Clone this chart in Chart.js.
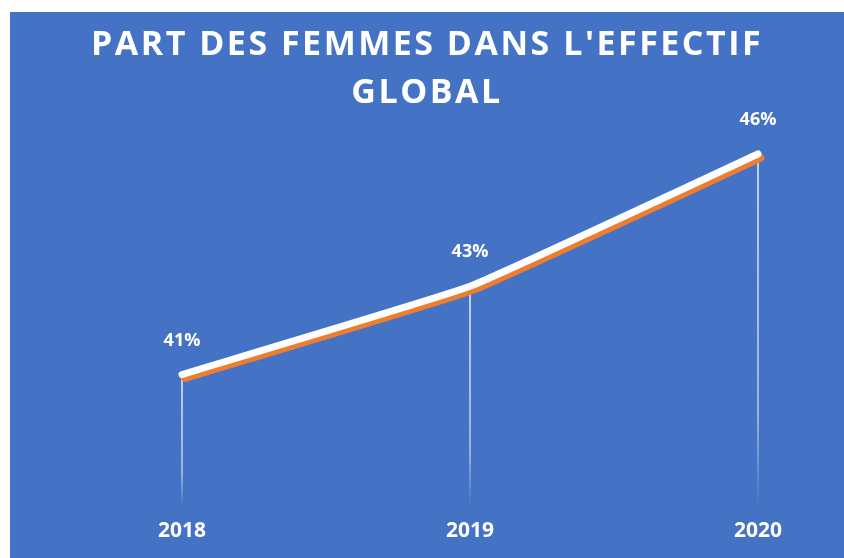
<!DOCTYPE html>
<html>
<head>
<meta charset="utf-8">
<script src="https://cdn.jsdelivr.net/npm/chart.js@4.4.1/dist/chart.umd.min.js"></script>
<style>
  html, body { margin: 0; padding: 0; background: #ffffff; }
  #wrap { width: 844px; height: 558px; position: relative; }
</style>
</head>
<body>
<div id="wrap"><canvas id="chart"></canvas></div>
<script>
/*************************************************
 * DATA
 *************************************************/
const TITLE_LINES = ["PART DES FEMMES DANS L'EFFECTIF", "GLOBAL"];
const YEARS = ["2018", "2019", "2020"];
const SHARE_PCT = [41, 43, 46];

const BLUE = "#4472C4";
const ORANGE = "#ED7D31";
const FONT = "'Open Sans', 'DejaVu Sans', sans-serif";

/*************************************************
 * PLUGINS
 *************************************************/
// blue panel behind everything + wide letter spacing for the title only
const panelBg = {
  id: "panelBg",
  beforeDraw(chart) {
    const c = chart.ctx;
    c.save();
    c.fillStyle = BLUE;
    c.fillRect(10, 12, chart.width - 10, chart.height - 12);
    c.restore();
    c.letterSpacing = "2.5px";
  },
  beforeDatasetsDraw(chart) {
    chart.ctx.letterSpacing = "0px";
  }
};

// thin fading drop lines under each point
const dropLines = {
  id: "dropLines",
  beforeDatasetsDraw(chart) {
    const c = chart.ctx;
    const meta = chart.getDatasetMeta(0);
    const bottom = chart.chartArea.bottom;
    c.save();
    c.lineWidth = 1.5;
    meta.data.forEach(pt => {
      const g = c.createLinearGradient(0, pt.y, 0, bottom);
      g.addColorStop(0, "rgba(255,255,255,0.9)");
      g.addColorStop(0.75, "rgba(255,255,255,0.6)");
      g.addColorStop(1, "rgba(255,255,255,0)");
      c.strokeStyle = g;
      c.beginPath();
      c.moveTo(pt.x, pt.y);
      c.lineTo(pt.x, bottom);
      c.stroke();
    });
    c.restore();
  }
};

// orange offset "shadow" under the white line
const lineShadow = {
  id: "lineShadow",
  beforeDatasetDraw(chart) {
    const c = chart.ctx;
    c.save();
    c.shadowColor = ORANGE;
    c.shadowOffsetX = 3;
    c.shadowOffsetY = 4;
    c.shadowBlur = 0;
  },
  afterDatasetDraw(chart) {
    chart.ctx.restore();
  }
};

// value labels above the points
const valueLabels = {
  id: "valueLabels",
  afterDatasetsDraw(chart) {
    const c = chart.ctx;
    const meta = chart.getDatasetMeta(0);
    c.save();
    c.fillStyle = "#ffffff";
    c.font = "bold 18px " + FONT;
    c.textAlign = "center";
    c.textBaseline = "middle";
    meta.data.forEach((pt, i) => {
      c.fillText(SHARE_PCT[i] + "%", pt.x, pt.y - 34);
    });
    c.restore();
  }
};

/*************************************************
 * CHART
 *************************************************/
const ctx = document.getElementById("chart");

new Chart(ctx, {
  type: "line",
  data: {
    labels: YEARS,
    datasets: [{
      data: SHARE_PCT,
      borderColor: "#ffffff",
      borderWidth: 7,
      borderCapStyle: "round",
      borderJoinStyle: "round",
      tension: 0.1,
      pointRadius: 0,
      clip: false
    }]
  },
  options: {
    responsive: true,
    maintainAspectRatio: false,
    animation: false,
    layout: { padding: { top: 0, left: 10, right: 0, bottom: 2 } },
    plugins: {
      legend: { display: false },
      tooltip: { enabled: false },
      title: {
        display: true,
        text: TITLE_LINES,
        color: "#ffffff",
        font: { family: FONT, size: 34, weight: "bold", lineHeight: 1.4 },
        padding: { top: 22, bottom: 13 }
      }
    },
    scales: {
      x: {
        offset: false,
        grid: { display: false, drawTicks: false },
        border: { display: false },
        ticks: {
          z: 1,
          color: "#ffffff",
          font: { family: FONT, size: 21, weight: "bold" },
          padding: 12,
          maxRotation: 0
        }
      },
      y: {
        position: "left",
        min: 38,
        max: 46.54,
        grid: { display: false, drawTicks: false },
        border: { display: false },
        ticks: { display: false },
        afterFit(scale) { scale.width = 172; }
      },
      yRight: {
        position: "right",
        min: 0,
        max: 1,
        grid: { display: false, drawTicks: false },
        border: { display: false },
        ticks: { display: false },
        afterFit(scale) { scale.width = 86; }
      }
    }
  },
  plugins: [panelBg, dropLines, lineShadow, valueLabels]
});
</script>
</body>
</html>
